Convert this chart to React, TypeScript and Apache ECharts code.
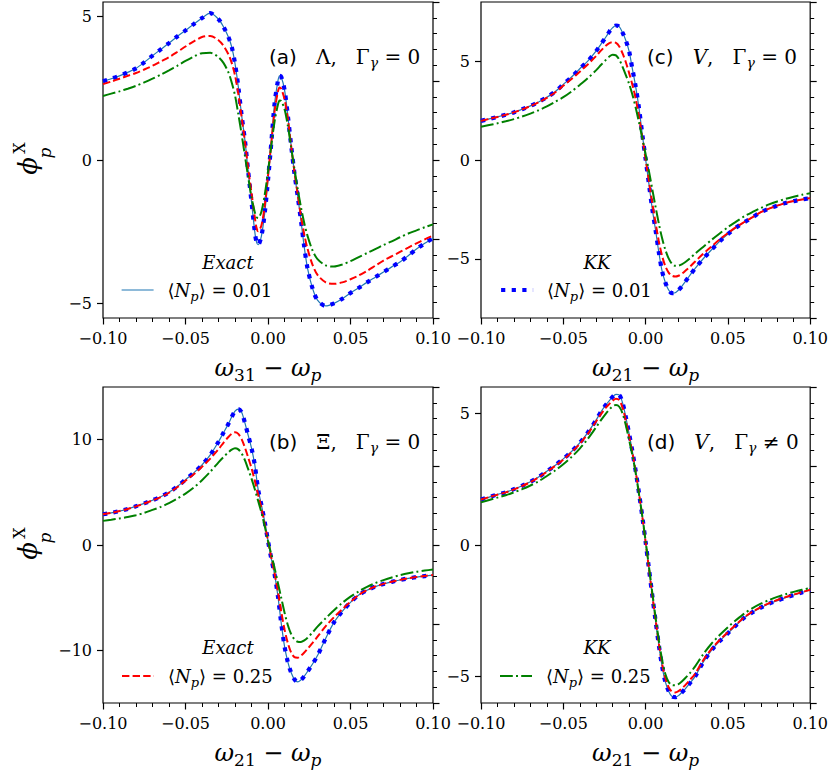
import React, { useEffect, useRef } from "react";
import * as echarts from "echarts";

// x grid (detuning) for panel (a)
const X_A = [-0.100,-0.095,-0.090,-0.085,-0.080,-0.075,-0.070,-0.065,-0.060,-0.055,-0.050,-0.045,-0.040,-0.035,
  -0.030,-0.027,-0.024,-0.022,-0.020,-0.018,-0.016,-0.014,-0.012,-0.010,-0.008,-0.007,-0.006,-0.004,-0.002,
  0.000,
  0.002,0.004,0.006,0.007,0.008,0.010,0.012,0.014,0.016,0.018,0.020,0.022,0.024,0.027,0.030,
  0.035,0.040,0.045,0.050,0.055,0.060,0.065,0.070,0.075,0.080,0.085,0.090,0.095,0.100];
// x grid for panels (b), (c), (d)
const X_V = [-0.100,-0.095,-0.090,-0.085,-0.080,-0.075,-0.070,-0.065,-0.060,-0.055,-0.050,-0.045,-0.040,-0.035,
  -0.030,-0.027,-0.024,-0.022,-0.020,-0.018,-0.016,-0.014,-0.012,-0.010,-0.008,-0.006,-0.004,-0.002,
  0.000,
  0.002,0.004,0.006,0.008,0.010,0.012,0.014,0.016,0.018,0.020,0.022,0.024,0.027,0.030,
  0.035,0.040,0.045,0.050,0.055,0.060,0.065,0.070,0.075,0.080,0.085,0.090,0.095,0.100];

// (a) Lambda, Gamma=0  (Exact and KK at <Np>=0.01 coincide)
const A_N001 = [2.74,2.83,2.93,3.05,3.19,3.40,3.63,3.85,4.07,4.30,4.51,4.73,4.94,5.11,
  4.90,4.64,4.28,3.94,3.36,2.55,1.56,0.69,-0.40,-1.45,-2.50,-2.85,-2.95,-2.65,-1.85,
  -0.70,
  0.60,1.97,2.75,2.93,2.90,2.45,1.55,0.52,-0.45,-1.26,-2.12,-3.04,-3.78,-4.47,-4.88,
  -5.08,-4.99,-4.83,-4.63,-4.45,-4.26,-4.08,-3.90,-3.72,-3.55,-3.33,-3.10,-2.90,-2.72];
const A_EX025 = [2.64,2.73,2.83,2.93,3.03,3.15,3.28,3.43,3.58,3.76,3.95,4.13,4.28,4.32,
  4.17,3.98,3.68,3.38,2.95,2.30,1.50,0.65,-0.30,-1.15,-2.00,-2.35,-2.48,-2.28,-1.60,
  -0.55,
  0.60,1.70,2.38,2.52,2.48,2.12,1.45,0.50,-0.40,-1.20,-1.95,-2.60,-3.10,-3.65,-4.00,
  -4.26,-4.31,-4.26,-4.15,-4.02,-3.86,-3.68,-3.50,-3.35,-3.20,-3.05,-2.90,-2.76,-2.63];
const A_KK025 = [2.23,2.31,2.39,2.48,2.58,2.70,2.83,2.97,3.12,3.28,3.45,3.60,3.72,3.73,
  3.58,3.38,3.05,2.70,2.25,1.60,0.90,0.15,-0.60,-1.30,-1.82,-1.98,-2.02,-1.80,-1.22,
  -0.40,
  0.50,1.35,1.92,2.07,2.05,1.78,1.20,0.45,-0.30,-1.00,-1.65,-2.20,-2.65,-3.15,-3.45,
  -3.67,-3.71,-3.64,-3.52,-3.38,-3.24,-3.10,-2.96,-2.83,-2.69,-2.56,-2.45,-2.34,-2.24];

// (b) Xi, Gamma=0
const B_N001 = [2.92,3.05,3.22,3.42,3.68,3.95,4.25,4.58,5.00,5.55,6.20,6.85,7.60,8.55,
  9.80,10.65,11.50,12.15,12.70,12.90,12.60,11.60,10.40,9.20,7.60,5.30,3.80,2.20,
  0.40,
  -1.30,-2.80,-4.85,-7.40,-9.60,-11.10,-12.10,-12.75,-13.00,-12.80,-12.45,-12.00,-11.30,-10.50,
  -8.85,-7.35,-6.30,-5.45,-4.75,-4.30,-3.95,-3.70,-3.50,-3.32,-3.17,-3.05,-2.95,-2.86];
const B_EX025 = [2.92,3.05,3.22,3.42,3.67,3.94,4.23,4.55,4.96,5.48,6.10,6.72,7.42,8.20,
  9.10,9.70,10.25,10.55,10.70,10.55,10.05,9.25,8.30,7.30,6.10,4.80,3.50,2.00,
  0.40,
  -1.20,-2.70,-4.40,-6.30,-8.00,-9.30,-10.20,-10.65,-10.70,-10.50,-10.20,-9.85,-9.30,-8.70,
  -7.70,-6.85,-6.10,-5.40,-4.74,-4.29,-3.94,-3.69,-3.49,-3.31,-3.16,-3.04,-2.94,-2.85];
const B_KK025 = [2.29,2.40,2.52,2.66,2.83,3.05,3.33,3.62,3.98,4.40,4.88,5.45,6.15,6.95,
  7.85,8.35,8.80,9.05,9.18,9.08,8.70,8.05,7.20,6.30,5.30,4.20,3.10,1.80,
  0.40,
  -0.90,-2.20,-3.60,-5.00,-6.40,-7.60,-8.45,-8.95,-9.18,-9.20,-9.05,-8.80,-8.30,-7.75,
  -6.95,-6.20,-5.50,-4.90,-4.40,-3.98,-3.62,-3.33,-3.08,-2.87,-2.69,-2.54,-2.43,-2.33];

// (c) V, Gamma=0
const C_N001 = [1.98,2.08,2.18,2.29,2.41,2.57,2.74,2.94,3.18,3.46,3.83,4.20,4.62,5.02,
  5.52,5.88,6.24,6.50,6.70,6.81,6.75,6.45,6.05,5.50,4.60,3.70,2.62,1.30,
  0.05,
  -1.20,-2.45,-3.52,-4.65,-5.62,-6.20,-6.58,-6.74,-6.72,-6.58,-6.40,-6.17,-5.83,-5.50,
  -5.00,-4.55,-4.12,-3.75,-3.42,-3.15,-2.90,-2.64,-2.46,-2.31,-2.18,-2.08,-2.00,-1.93];
const C_EX025 = [1.98,2.08,2.18,2.29,2.41,2.56,2.73,2.92,3.15,3.42,3.76,4.10,4.47,4.85,
  5.27,5.55,5.80,5.92,5.97,5.93,5.75,5.40,4.95,4.40,3.80,3.10,2.20,1.15,
  0.05,
  -1.05,-2.15,-3.15,-4.10,-4.85,-5.38,-5.70,-5.86,-5.90,-5.86,-5.76,-5.62,-5.40,-5.15,
  -4.75,-4.38,-4.02,-3.70,-3.40,-3.14,-2.89,-2.64,-2.46,-2.31,-2.18,-2.08,-2.00,-1.93];
const C_KK025 = [1.68,1.77,1.86,1.96,2.07,2.20,2.35,2.52,2.71,2.94,3.18,3.47,3.80,4.15,
  4.55,4.82,5.08,5.24,5.33,5.30,5.08,4.72,4.30,3.85,3.30,2.65,1.90,1.10,
  0.30,
  -0.55,-1.45,-2.35,-3.20,-3.95,-4.55,-4.98,-5.25,-5.36,-5.35,-5.28,-5.18,-4.98,-4.75,
  -4.40,-4.05,-3.72,-3.40,-3.12,-2.85,-2.63,-2.43,-2.25,-2.10,-1.97,-1.86,-1.76,-1.68];

// (d) V, Gamma != 0
const D_N001 = [1.73,1.82,1.92,2.00,2.12,2.25,2.40,2.58,2.80,3.02,3.27,3.55,3.88,4.28,
  4.75,5.07,5.33,5.48,5.63,5.72,5.70,5.40,4.85,4.22,3.55,2.80,1.97,1.08,
  0.12,
  -0.88,-1.88,-2.85,-3.78,-4.60,-5.20,-5.55,-5.75,-5.78,-5.72,-5.60,-5.47,-5.24,-5.00,
  -4.45,-4.00,-3.65,-3.35,-3.05,-2.76,-2.55,-2.38,-2.23,-2.11,-2.00,-1.90,-1.80,-1.71];
const D_EX025 = [1.73,1.82,1.91,2.00,2.11,2.24,2.39,2.57,2.78,3.00,3.24,3.52,3.84,4.23,
  4.70,4.98,5.23,5.36,5.48,5.55,5.50,5.22,4.72,4.12,3.50,2.78,1.96,1.08,
  0.12,
  -0.88,-1.87,-2.80,-3.72,-4.50,-5.05,-5.40,-5.57,-5.60,-5.55,-5.45,-5.33,-5.12,-4.90,
  -4.38,-3.95,-3.61,-3.31,-3.02,-2.74,-2.53,-2.36,-2.21,-2.09,-1.98,-1.88,-1.79,-1.70];
const D_KK025 = [1.62,1.71,1.80,1.89,2.00,2.12,2.26,2.42,2.62,2.83,3.07,3.34,3.66,4.04,
  4.48,4.75,5.00,5.15,5.27,5.32,5.25,5.00,4.55,3.98,3.40,2.72,1.92,1.10,
  0.15,
  -0.80,-1.78,-2.72,-3.60,-4.35,-4.90,-5.20,-5.32,-5.33,-5.28,-5.18,-5.06,-4.86,-4.62,
  -4.15,-3.75,-3.42,-3.12,-2.85,-2.60,-2.40,-2.23,-2.09,-1.97,-1.87,-1.78,-1.70,-1.63];

// y-axis ranges and labelled ticks
const Y_RANGE_A = [-5.5, 5.5];
const Y_RANGE_B = [-15, 15];
const Y_RANGE_C = [-8, 8];
const Y_RANGE_D = [-6, 6];
const Y_TICKS_A = [-5, 0, 5];
const Y_TICKS_B = [-10, 0, 10];
const Y_TICKS_C = [-5, 0, 5];
const Y_TICKS_D = [-5, 0, 5];
const X_SUBS = ["31", "21", "21", "21"];
const SERIES_NAMES = ["Exact 0.01", "KK 0.01", "Exact 0.25", "KK 0.25"];

const SERIF = "'DejaVu Serif', serif";
const SANS = "'DejaVu Sans', sans-serif";

const fmtMinus = (v: number, d: number) => {
  if (Math.abs(v) < 1e-9) return (0).toFixed(d);
  const s = Math.abs(v).toFixed(d);
  return v < 0 ? "\u2212" + s : s;
};

const PANELS = [
  { grid: { left: 103, top: 2, width: 330, height: 316 }, x: X_A, ys: [A_N001, A_N001, A_EX025, A_KK025], range: Y_RANGE_A, ticks: Y_TICKS_A },
  { grid: { left: 103, top: 387, width: 330, height: 316 }, x: X_V, ys: [B_N001, B_N001, B_EX025, B_KK025], range: Y_RANGE_B, ticks: Y_TICKS_B },
  { grid: { left: 481, top: 2, width: 332, height: 316 }, x: X_V, ys: [C_N001, C_N001, C_EX025, C_KK025], range: Y_RANGE_C, ticks: Y_TICKS_C },
  { grid: { left: 481, top: 387, width: 332, height: 316 }, x: X_V, ys: [D_N001, D_N001, D_EX025, D_KK025], range: Y_RANGE_D, ticks: Y_TICKS_D },
];

const LINE_STYLES = [
  { color: "#1f77b4", width: 1.2, type: "solid" },
  { color: "#0000ff", width: 4.2, type: [4.2, 6.4], cap: "butt" },
  { color: "#ff0000", width: 2, type: [7.4, 3.2] },
  { color: "#008000", width: 2, type: [12.8, 3.2, 2, 3.2] },
];

const mathRich = (size: number, sub: number, lh: number) => ({
  m: { fontFamily: SERIF, fontSize: size, lineHeight: lh, color: "#000" },
  i: { fontFamily: SERIF, fontStyle: "italic", fontSize: size, lineHeight: lh, color: "#000" },
  s: { fontFamily: SERIF, fontStyle: "italic", fontSize: sub, lineHeight: sub, verticalAlign: "bottom", color: "#000" },
  n: { fontFamily: SERIF, fontSize: sub, lineHeight: sub, verticalAlign: "bottom", color: "#000" },
  t: { fontFamily: SANS, fontSize: size, lineHeight: lh, color: "#000" },
  a: { fontFamily: SERIF, fontSize: size, lineHeight: lh, color: "#000", padding: [0, 0, 0, 9] },
});

export default function App() {
  const ref = useRef<HTMLDivElement>(null);
  useEffect(() => {
    if (!ref.current) return;
    const chart = echarts.init(ref.current, undefined, { renderer: "svg" });

    const grids: any[] = [];
    const xAxes: any[] = [];
    const yAxes: any[] = [];
    const series: any[] = [];

    PANELS.forEach((p, i) => {
      grids.push({ ...p.grid, show: true, borderColor: "#000", borderWidth: 1.2, backgroundColor: "transparent" });
      xAxes.push({
        type: "value", gridIndex: i, min: -0.1, max: 0.1, interval: 0.05,
        axisLine: { show: false, onZero: false },
        axisTick: { show: true, inside: false, length: 6.5, lineStyle: { color: "#000", width: 1.2 } },
        minorTick: { show: true, splitNumber: 5, length: 4, lineStyle: { color: "#000", width: 1 } },
        splitLine: { show: false },
        axisLabel: { fontFamily: SERIF, fontSize: 16, color: "#000", margin: 12, formatter: (v: number) => fmtMinus(v, 2) },
        name: `{i|ω}{n|${X_SUBS[i]}}{m| − }{i|ω}{s|p}`,
        nameLocation: "middle", nameGap: 35,
        nameTextStyle: { rich: mathRich(24, 17, 30) },
      });
      yAxes.push({
        type: "value", gridIndex: i, min: p.range[0], max: p.range[1],
        axisLine: { show: false, onZero: false },
        axisTick: { show: true, inside: false, length: 6, customValues: p.ticks, lineStyle: { color: "#000", width: 1.2 } },
        axisLabel: { fontFamily: SERIF, fontSize: 16, color: "#000", margin: 11, customValues: p.ticks, formatter: (v: number) => fmtMinus(v, 0) },
        splitLine: { show: false },
      });
      yAxes.push({
        type: "value", gridIndex: i, position: "right", min: -2, max: 2, interval: 1,
        axisLine: { show: false, onZero: false },
        axisTick: { show: true, inside: false, length: 6.5, lineStyle: { color: "#000", width: 1.2 } },
        minorTick: { show: true, splitNumber: 5, length: 4, lineStyle: { color: "#000", width: 1 } },
        axisLabel: { show: false },
        splitLine: { show: false },
      });
      p.ys.forEach((ys, k) => {
        series.push({
          type: "line", name: SERIES_NAMES[k], xAxisIndex: i, yAxisIndex: 2 * i,
          data: p.x.map((x, j) => [x, ys[j]]),
          showSymbol: false, symbol: "none", smooth: 0.3,
          lineStyle: LINE_STYLES[k], itemStyle: { color: LINE_STYLES[k].color },
          z: 2 + k,
        });
      });
    });

    const legendFmt = (name: string) =>
      `{a|⟨}{i|N}{s|p}{m|⟩ = ${name.endsWith("0.01") ? "0.01" : "0.25"}}`;
    const legendPos = [
      { name: "Exact 0.01", k: 0, left: 121, top: 281 },
      { name: "KK 0.01", k: 1, left: 499, top: 281 },
      { name: "Exact 0.25", k: 2, left: 121, top: 667 },
      { name: "KK 0.25", k: 3, left: 499, top: 667 },
    ];
    const legends = legendPos.map((l) => ({
      data: [l.name], left: l.left, top: l.top, padding: 0, orient: "horizontal",
      itemWidth: 32, itemHeight: 14, selectedMode: false,
      itemStyle: { opacity: 0, borderWidth: 0 },
      lineStyle: { color: LINE_STYLES[l.k].color, width: LINE_STYLES[l.k].width, type: LINE_STYLES[l.k].type, cap: "butt" },
      formatter: legendFmt,
      textStyle: { fontFamily: SERIF, fontSize: 18, rich: mathRich(18, 13, 26) },
    }));

    const txt = (x: number, y: number, text: string, rich: any, align = "left") => ({
      type: "text", x, y, z: 100,
      style: { text, rich, align, verticalAlign: "middle", fill: "#000" },
    });
    const r20 = mathRich(20, 14, 26);
    const r18 = mathRich(18, 13, 24);
    const yl = (cx: number, cy: number) => [
      { type: "text", x: cx, y: cy, rotation: Math.PI / 2, style: { text: "ϕ", fontFamily: SERIF, fontStyle: "italic", fontSize: 26, align: "center", verticalAlign: "middle", fill: "#000" } },
      { type: "text", x: cx - 9, y: cy - 18, rotation: Math.PI / 2, style: { text: "X", fontFamily: SERIF, fontSize: 16, align: "center", verticalAlign: "middle", fill: "#000" } },
      { type: "text", x: cx + 17, y: cy - 13, rotation: Math.PI / 2, style: { text: "p", fontFamily: SERIF, fontStyle: "italic", fontSize: 17, align: "center", verticalAlign: "middle", fill: "#000" } },
    ];

    const graphic = [
      txt(269, 57, "{t|(a)}{m|   Λ,   Γ}{s|γ}{m| = 0}", r20),
      txt(269, 442, "{t|(b)}{m|   Ξ,   Γ}{s|γ}{m| = 0}", r20),
      txt(647, 57, "{t|(c)}{m|   }{i|V}{m|,   Γ}{s|γ}{m| = 0}", r20),
      txt(647, 442, "{t|(d)}{m|   }{i|V}{m|,   Γ}{s|γ}{m| ≠ 0}", r20),
      txt(228, 262, "{i|Exact}", r18, "center"),
      txt(597, 262, "{i|KK}", r18, "center"),
      txt(228, 647, "{i|Exact}", r18, "center"),
      txt(597, 647, "{i|KK}", r18, "center"),
      ...yl(28, 166),
      ...yl(28, 551),
    ];

    chart.setOption({
      animation: false,
      backgroundColor: "#ffffff",
      textStyle: { fontFamily: SERIF },
      grid: grids,
      xAxis: xAxes,
      yAxis: yAxes,
      series,
      legend: legends,
      graphic,
    });
    return () => chart.dispose();
  }, []);
  return <div ref={ref} style={{ position: "absolute", left: 0, top: 0, width: 831, height: 773, background: "#fff" }} />;
}
